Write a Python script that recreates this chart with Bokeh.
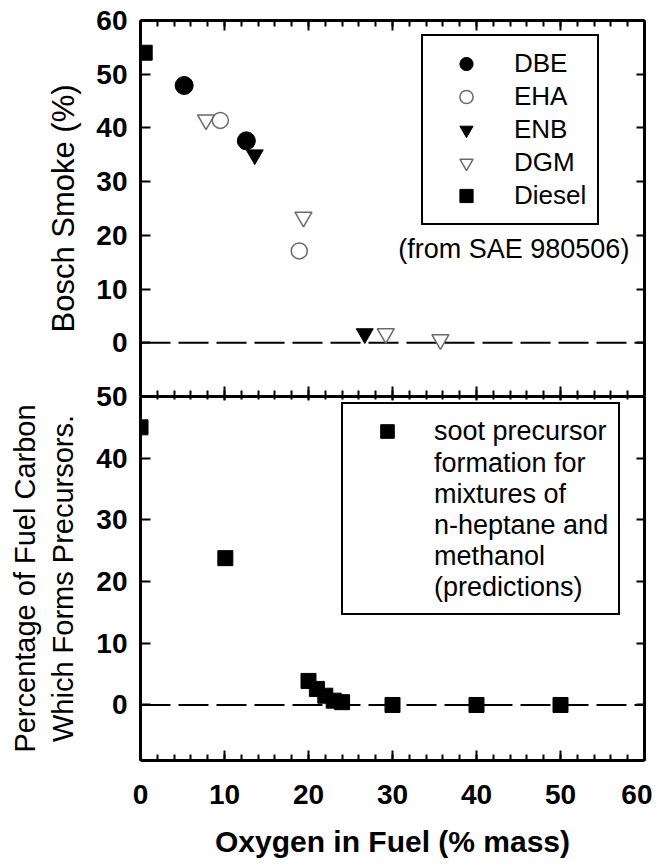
from bokeh.plotting import figure
from bokeh.layouts import column
from bokeh.models import (LinearAxis, FixedTicker, Span, Legend, LegendItem,
                          Label, Range1d)
from bokeh.embed import file_html
from bokeh.resources import INLINE

# ---------------- data ----------------
# Top panel: Bosch smoke (%) vs oxygen in fuel (% mass)  (from SAE 980506)
dbe_x = [5.2, 12.6]
dbe_y = [47.9, 37.6]
eha_x = [9.5, 18.9]
eha_y = [41.4, 17.1]
enb_x = [13.6, 26.7]
enb_y = [35.0, 1.7]
dgm_x = [7.8, 19.4, 29.2, 35.7]
dgm_y = [41.5, 23.4, 1.7, 0.6]
diesel_x = [0.5]
diesel_y = [54.0]

# Bottom panel: predicted soot precursor formation (n-heptane / methanol)
soot_x = [0.0, 10.1, 20.0, 21.0, 22.0, 23.0, 24.0, 30.0, 40.0, 50.0]
soot_y = [45.0, 23.8, 3.9, 2.6, 1.5, 0.7, 0.45, 0.0, 0.0, 0.0]

x_major = [0, 10, 20, 30, 40, 50, 60]
x_minor = list(range(0, 61, 2))
top_y_ticks = [0, 10, 20, 30, 40, 50, 60]
bot_y_ticks = [0, 10, 20, 30, 40, 50]

legend_top_labels = ["DBE", "EHA", "ENB", "DGM", "Diesel"]
legend_bot_lines = ["soot precursor", "formation for", "mixtures of",
                    "n-heptane and", "methanol", "(predictions)"]

FONT = "Liberation Sans"
GRAY = "#6a6a6a"
OVERLAP = 18   # bottom panel's top border slides under the top panel


def base_fig(fh, yr, bt, bb):
    p = figure(frame_width=504, frame_height=fh,
               x_range=Range1d(0, 60), y_range=Range1d(*yr),
               output_backend="svg", toolbar_location=None,
               x_axis_location=None, y_axis_location=None,
               min_border_left=140, min_border_right=8,
               min_border_top=bt, min_border_bottom=bb)
    p.grid.visible = False
    p.outline_line_color = None
    p.background_fill_color = "white"
    p.border_fill_color = "white"
    return p


def style(ax, ticks, mj, mn, labels=True):
    ax.axis_line_width = 3
    ax.axis_line_color = "black"
    ax.major_tick_in = mj
    ax.major_tick_out = 0
    ax.minor_tick_in = mn
    ax.minor_tick_out = 0
    ax.major_tick_line_width = 2
    ax.minor_tick_line_width = 2
    if labels:
        ax.major_label_text_font = FONT
        ax.major_label_text_font_style = "bold"
        ax.major_label_text_font_size = "28px"
        ax.major_label_text_color = "black"
    else:
        ax.major_label_overrides = {t: "" for t in ticks}
        ax.major_label_text_font_size = "1px"
        ax.major_label_standoff = 0
    ax.axis_label_text_font = FONT
    ax.axis_label_text_font_style = "normal"
    ax.axis_label_text_color = "black"


def add_frame_axes(p, yticks, y_label, top_in, bot_in, xlabels):
    left = LinearAxis(ticker=FixedTicker(ticks=yticks, minor_ticks=[]))
    style(left, yticks, 10, 0)
    left.major_label_standoff = 13
    left.axis_label = y_label
    p.add_layout(left, "left")

    right = LinearAxis(ticker=FixedTicker(ticks=yticks, minor_ticks=[]))
    style(right, yticks, 8, 0, labels=False)
    p.add_layout(right, "right")

    above = LinearAxis(ticker=FixedTicker(ticks=x_major, minor_ticks=x_minor))
    style(above, x_major, top_in[0], top_in[1], labels=False)
    p.add_layout(above, "above")

    below = LinearAxis(ticker=FixedTicker(ticks=x_major, minor_ticks=x_minor))
    style(below, x_major, bot_in[0], bot_in[1], labels=xlabels)
    p.add_layout(below, "below")
    return left, below


def zero_line():
    return Span(location=0, dimension="width", line_color="black",
                line_width=2, line_dash="30 8", level="underlay")


def style_legend(leg, size):
    leg.border_line_color = "black"
    leg.border_line_width = 2
    leg.border_line_alpha = 1
    leg.background_fill_color = "white"
    leg.background_fill_alpha = 1
    leg.label_text_font = FONT
    leg.label_text_font_size = size
    leg.label_text_color = "black"
    leg.margin = 0
    leg.spacing = 0


# ---------------- top panel ----------------
p1 = base_fig(376, (-10, 60), 20, 0)
l1, b1 = add_frame_axes(p1, top_y_ticks, "Bosch Smoke (%)",
                        (10, 6), (10, 6), False)
l1.axis_label_text_font_size = "31px"
l1.axis_label_standoff = 12

p1.add_layout(zero_line())

r_dbe = p1.scatter(dbe_x, dbe_y, marker="circle", size=18,
                   fill_color="black", line_color="black")
r_eha = p1.scatter(eha_x, eha_y, marker="circle", size=16,
                   fill_color=None, line_color=GRAY, line_width=1.5)
r_enb = p1.scatter(enb_x, enb_y, marker="inverted_triangle", size=17,
                   fill_color="black", line_color="black")
r_dgm = p1.scatter(dgm_x, dgm_y, marker="inverted_triangle", size=17,
                   fill_color=None, line_color=GRAY, line_width=1.5)
r_die = p1.scatter(diesel_x, diesel_y, marker="square", size=15,
                   fill_color="black", line_color="black")

leg1 = Legend(items=[LegendItem(label=t, renderers=[r])
                     for t, r in zip(legend_top_labels,
                                     [r_dbe, r_eha, r_enb, r_dgm, r_die])],
              location=(281, 171))
style_legend(leg1, "26px")
leg1.glyph_width = 64
leg1.glyph_height = 33
leg1.label_height = 25
leg1.padding = 11
leg1.label_standoff = 16
p1.add_layout(leg1)

p1.add_layout(Label(x=58.2, y=17.4, text="(from SAE 980506)",
                    text_align="right", text_baseline="middle",
                    text_font=FONT, text_font_size="27px",
                    text_color="black"))

# ---------------- bottom panel ----------------
p2 = base_fig(364, (-9, 50), OVERLAP, 4)
p2.border_fill_alpha = 0
p2.margin = (-OVERLAP, 0, 0, 0)
l2, b2 = add_frame_axes(p2, bot_y_ticks,
                        "Percentage of Fuel Carbon\nWhich Forms Precursors.",
                        (4, 3), (10, 6), True)
l2.axis_label_text_font_size = "29px"
l2.axis_label_text_line_height = 1.2
l2.axis_label_standoff = 14
b2.major_label_standoff = 24
b2.axis_label = "Oxygen in Fuel (% mass)"
b2.axis_label_text_font_style = "bold"
b2.axis_label_text_font_size = "30px"
b2.axis_label_standoff = 18

p2.add_layout(zero_line())

r_soot = p2.scatter(soot_x, soot_y, marker="square", size=15,
                    fill_color="black", line_color="black")
r_blank = p2.scatter(x=[], y=[], marker="square", size=1, alpha=0)

leg2 = Legend(items=[LegendItem(label=legend_bot_lines[0], renderers=[r_soot]),
                     LegendItem(label="\n".join(legend_bot_lines[1:]),
                                renderers=[r_blank])],
              location=(201, 145))
style_legend(leg2, "27px")
leg2.label_text_line_height = 1.15
leg2.glyph_width = 68
leg2.glyph_height = 34
leg2.label_height = 25
leg2.padding = 10
leg2.label_standoff = 13
p2.add_layout(leg2)

layout = column(p1, p2, spacing=0)
open("out.html", "w").write(file_html(layout, INLINE))
